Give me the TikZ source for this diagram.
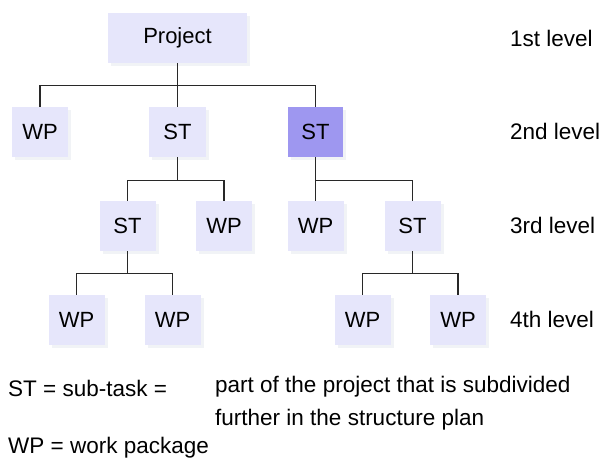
\documentclass[tikz,border=0pt]{standalone}
\usepackage{fontspec}
\setmainfont{Liberation Sans}
\usetikzlibrary{shadows}
\definecolor{boxlight}{RGB}{230,230,251}
\definecolor{boxdark}{RGB}{158,151,240}
\definecolor{wire}{RGB}{40,40,40}
\definecolor{shade}{RGB}{241,243,246}
\begin{document}
\begin{tikzpicture}[x=1pt,y=-1pt,
  pbox/.style={fill=boxlight, draw=none, minimum height=50pt, minimum width=56pt,
    inner sep=0pt, font=\fontsize{22}{26}\selectfont,
    drop shadow={shadow xshift=3pt, shadow yshift=-3pt, fill=shade, opacity=1}},
  hibox/.style={pbox, fill=boxdark},
  wire/.style={draw=wire, line width=1.1pt},
  lvl/.style={anchor=west, inner sep=0pt, font=\fontsize{22.5}{27}\selectfont},
  legend/.style={anchor=west, inner sep=0pt, align=left, font=\fontsize{22.5}{32.5}\selectfont}]
\useasboundingbox (0,0) rectangle (602,459);
\fill[white] (0,0) rectangle (602,459);

% level 1
\node[pbox, minimum width=139pt] (proj) at (177.5,38) {Project};
% level 2
\node[pbox] (a2) at (40,132) {WP};
\node[pbox, minimum width=57pt] (b2) at (177.5,132) {ST};
\node[hibox, minimum width=55pt] (c2) at (315.5,132) {ST};
% level 3
\node[pbox] (a3) at (127.5,226) {ST};
\node[pbox] (b3) at (224,226) {WP};
\node[pbox] (c3) at (315.5,226) {WP};
\node[pbox] (d3) at (412.5,226) {ST};
% level 4
\node[pbox] (a4) at (76.5,320) {WP};
\node[pbox] (b4) at (172.5,320) {WP};
\node[pbox] (c4) at (362.5,320) {WP};
\node[pbox] (d4) at (458,320) {WP};

% connectors
\draw[wire] (proj.south) -- ++(0,22) coordinate (j1);
\draw[wire] (j1) -| (a2.north);
\draw[wire] (j1) -- (b2.north);
\draw[wire] (j1) -| (c2.north);

\draw[wire] (b2.south) -- ++(0,23) coordinate (j2);
\draw[wire] (j2) -| (a3.north);
\draw[wire] (j2) -| (b3.north);

\draw[wire] (c2.south) -- ++(0,23) coordinate (j3);
\draw[wire] (j3) -- (c3.north);
\draw[wire] (j3) -| (d3.north);

\draw[wire] (a3.south) -- ++(0,22) coordinate (j4);
\draw[wire] (j4) -| (a4.north);
\draw[wire] (j4) -| (b4.north);

\draw[wire] (d3.south) -- ++(0,22) coordinate (j5);
\draw[wire] (j5) -| (c4.north);
\draw[wire] (j5) -| (d4.north);

% level labels
\node[lvl] (l1) at (510,38) {1st level};
\node[lvl] (l2) at (510,131) {2nd level};
\node[lvl] (l3) at (510,225) {3rd level};
\node[lvl] (l4) at (510,319) {4th level};

% legend
\node[legend] (st) at (8,388) {ST = sub-task =};
\node[legend, anchor=north west] (stdef) at (215,376) {part of the project that is subdivided\\further in the structure plan};
\node[legend] (wp) at (8,448) {WP = work package};
\end{tikzpicture}
\end{document}
